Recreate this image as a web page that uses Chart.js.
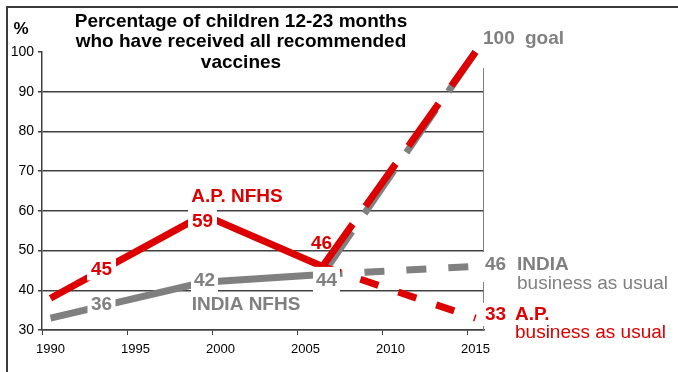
<!DOCTYPE html>
<html>
<head>
<meta charset="utf-8">
<script src="https://cdn.jsdelivr.net/npm/chart.js@4"></script>
<style>
  html, body { margin: 0; padding: 0; background: #fff; }
  canvas { display: block; }
</style>
</head>
<body>
<canvas id="chart" width="678" height="372"></canvas>
<script>
// categories (one per year, labels every 5th)
const years = [1990, 1991, 1992, 1993, 1994, 1995, 1996, 1997, 1998, 1999, 2000, 2001, 2002,
  2003, 2004, 2005, 2006, 2007, 2008, 2009, 2010, 2011, 2012, 2013, 2014, 2015];
// NFHS survey series
const nfhsYears = [1990, 1993, 1999, 2006];
const apNfhs = [38, 45, 59, 46];
const indiaNfhs = [33, 36, 42, 44];
// projections from last survey to 2015
const projYears = [2006, 2015];
const apGoal = [46, 100];
const indiaGoal = [44, 100];
const apUsual = [46, 33];
const indiaUsual = [44, 46];
const yMin = 30, yMax = 100, yStep = 10;

const RED = '#dd0000';
const GRAY = '#808080';
const INK = '#404040';
const FONT = '"Liberation Sans", Arial, Helvetica, sans-serif';

function pts(xs, ys) { return xs.map((x, i) => ({ x, y: ys[i] })); }

function serie(label, xs, ys, color, dash) {
  return {
    label, data: pts(xs, ys), borderColor: color, borderWidth: 7,
    borderDash: dash || [], borderCapStyle: 'butt', borderJoinStyle: 'miter',
    pointRadius: 0, pointHoverRadius: 0, tension: 0, clip: false, fill: false
  };
}

function txt(ctx, s, x, y, o) {
  ctx.font = `${o.bold === false ? '' : 'bold '}${o.size || 19}px ${FONT}`;
  ctx.textBaseline = 'middle';
  ctx.textAlign = o.align || 'center';
  if (o.box) {
    ctx.fillStyle = '#fff';
    ctx.fillRect(x + (o.bx || 0) - o.box[0] / 2, y + (o.by || 0) - o.box[1] / 2, o.box[0], o.box[1]);
  }
  ctx.fillStyle = o.color || '#000';
  ctx.fillText(String(s), x, y);
}

const notes = {
  id: 'notes',
  beforeDraw(chart) {
    const ctx = chart.ctx;
    ctx.save();
    ctx.strokeStyle = '#3a3a3a';
    ctx.lineWidth = 2;
    ctx.beginPath();
    ctx.moveTo(7, 380); ctx.lineTo(7, 7); ctx.lineTo(690, 7);
    ctx.stroke();
    // title
    ctx.fillStyle = '#000';
    ctx.font = `bold 19px ${FONT}`;
    ctx.textAlign = 'center';
    ctx.textBaseline = 'alphabetic';
    ctx.fillText('Percentage of children 12-23 months', 241, 27);
    ctx.fillText('who have received all recommended', 241, 47);
    ctx.fillText('vaccines', 241, 68);
    ctx.font = `bold 17px ${FONT}`;
    ctx.fillText('%', 21, 34);
    ctx.restore();
  },
  beforeDatasetsDraw(chart) {
    const { ctx, chartArea: a } = chart;
    ctx.save();
    ctx.strokeStyle = GRAY;
    ctx.lineWidth = 1;
    ctx.beginPath();
    ctx.moveTo(a.right - 0.5, a.top);
    ctx.lineTo(a.right - 0.5, a.bottom);
    ctx.stroke();
    ctx.restore();
  },
  afterDatasetsDraw(chart) {
    const ctx = chart.ctx;
    const sx = chart.scales.x, sy = chart.scales.y;
    const x = yr => sx.getPixelForValue(years.indexOf(yr));
    const y = v => sy.getPixelForValue(v);
    ctx.save();
    // survey values
    txt(ctx, apNfhs[1], x(nfhsYears[1]), y(apNfhs[1]) - 1, { color: RED, box: [29, 22] });
    txt(ctx, apNfhs[2], x(nfhsYears[2]) - 1, y(apNfhs[2]) + 7, { color: RED, box: [29, 26] });
    txt(ctx, apNfhs[3], x(nfhsYears[3]) - 1, y(apNfhs[3]) - 23, { color: RED });
    txt(ctx, indiaNfhs[1], x(nfhsYears[1]), y(indiaNfhs[1]) - 1, { color: GRAY, box: [28, 24] });
    txt(ctx, indiaNfhs[2], x(nfhsYears[2]) + 1, y(indiaNfhs[2]) - 2, { color: GRAY, box: [27, 26] });
    txt(ctx, indiaNfhs[3], x(nfhsYears[3]) + 4, y(indiaNfhs[3]) + 6.5, { color: GRAY, box: [27, 28] });
    txt(ctx, 'A.P. NFHS', 237, 197, { color: RED });
    txt(ctx, 'INDIA NFHS', 246, 305, { color: GRAY });

    // right side, end of projections
    ctx.fillStyle = '#fff';
    ctx.fillRect(481, 20, 110, 48);
    ctx.fillRect(481, 252, 195, 30);
    ctx.fillRect(481, 303, 195, 23);
    const yg = y(apGoal[1]) - 13;
    txt(ctx, apGoal[1], 483, yg, { color: GRAY, align: 'left' });
    txt(ctx, 'goal', 525, yg, { color: GRAY, align: 'left' });
    const yi = y(indiaUsual[1]) - 1.5;
    txt(ctx, indiaUsual[1], 485, yi, { color: GRAY, align: 'left' });
    txt(ctx, 'INDIA', 517, yi, { color: GRAY, align: 'left' });
    txt(ctx, 'business as usual', 517, yi + 19, { color: GRAY, align: 'left', bold: false });
    const ya = y(apUsual[1]) - 3;
    txt(ctx, apUsual[1], 485, ya, { color: RED, align: 'left' });
    txt(ctx, 'A.P.', 515, ya, { color: RED, align: 'left' });
    txt(ctx, 'business as usual', 515, ya + 18, { color: RED, align: 'left', bold: false });
    ctx.restore();
  }
};

new Chart(document.getElementById('chart'), {
  type: 'line',
  data: {
    labels: years,
    datasets: [
      serie('A.P. NFHS', nfhsYears, apNfhs, RED),
      serie('A.P. goal', projYears, apGoal, RED, [52, 22]),
      serie('A.P. business as usual', projYears, apUsual, RED, [19, 21]),
      serie('INDIA NFHS', nfhsYears, indiaNfhs, GRAY),
      serie('INDIA goal', projYears, indiaGoal, GRAY, [52, 22]),
      serie('INDIA business as usual', projYears, indiaUsual, GRAY, [20, 22])
    ]
  },
  options: {
    responsive: false,
    animation: false,
    events: [],
    layout: { padding: { top: 52, right: 194, left: 0, bottom: 0 } },
    plugins: { legend: { display: false }, tooltip: { enabled: false }, title: { display: false } },
    scales: {
      x: {
        type: 'category',
        offset: true,
        afterFit: s => { s.height = 42; },
        border: { color: INK, width: 1.5 },
        grid: {
          offset: true, drawOnChartArea: false, drawTicks: true, tickLength: 5,
          tickColor: c => (c.index !== undefined && c.index % 5 === 0 ? INK : 'rgba(0,0,0,0)')
        },
        ticks: {
          autoSkip: false, maxRotation: 0, minRotation: 0, padding: 7, color: '#000',
          font: { family: FONT, size: 13 },
          callback: (v, i) => (years[i] % 5 === 0 ? String(years[i]) : '')
        }
      },
      y: {
        min: yMin, max: yMax,
        afterFit: s => { s.width = 42; },
        border: { color: INK, width: 1.5 },
        grid: {
          color: c => (c.tick && c.tick.value === yMax ? 'rgba(0,0,0,0)' : INK),
          lineWidth: 1.5, tickLength: 4, tickColor: INK
        },
        ticks: { stepSize: yStep, padding: 4, color: '#000', font: { family: FONT, size: 14 } }
      }
    }
  },
  plugins: [notes]
});
</script>
</body>
</html>
